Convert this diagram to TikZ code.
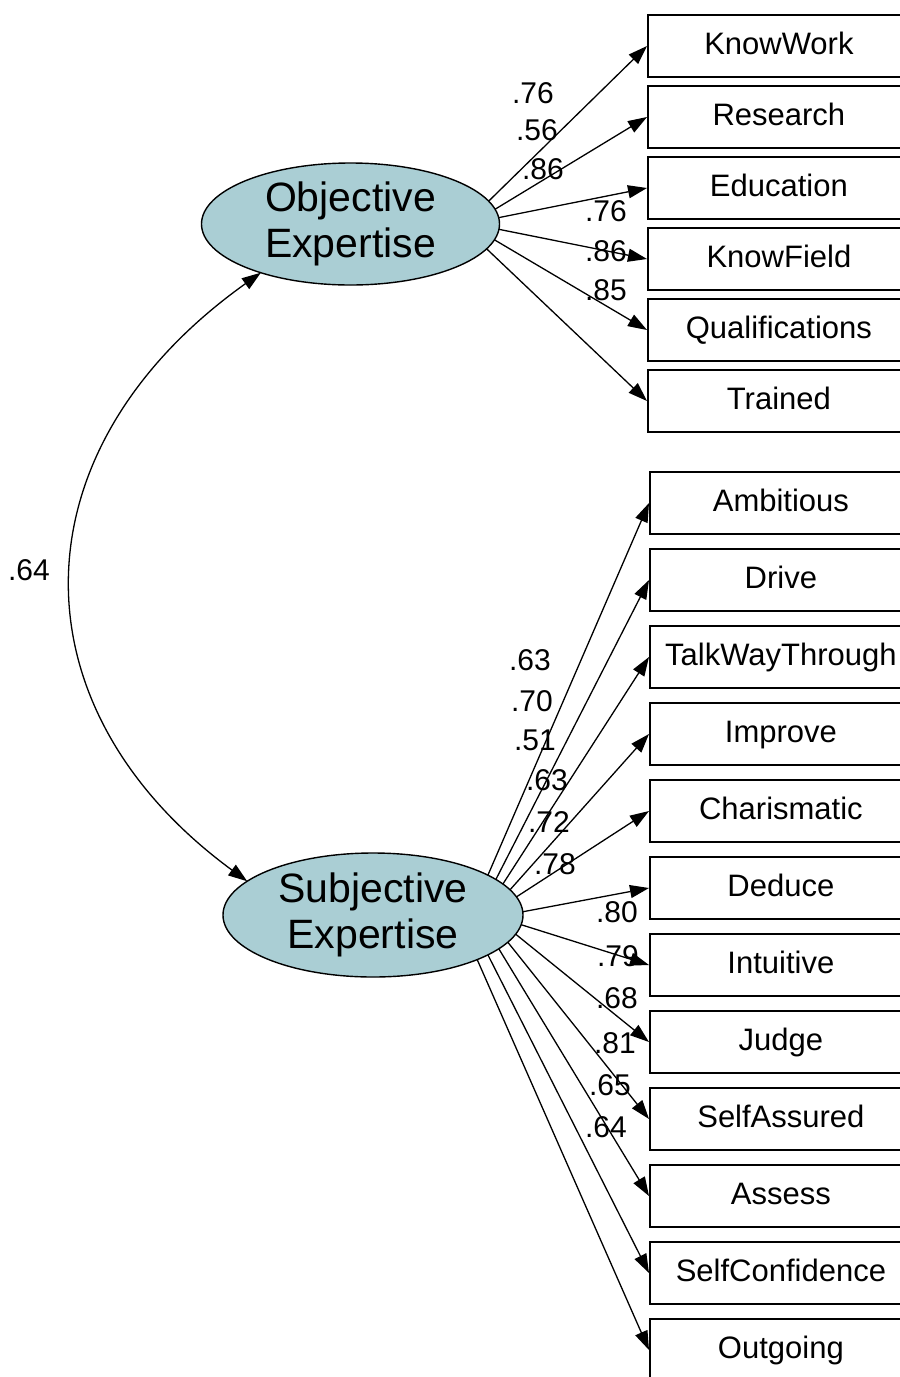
\documentclass[tikz,border=0pt]{standalone}
\usepackage{fontspec}
\setmainfont{Liberation Sans}
\usetikzlibrary{arrows.meta,calc,shapes.geometric}
\definecolor{latfill}{RGB}{170,206,212}
\begin{document}
\begin{tikzpicture}[x=1pt,y=-1pt,
  obs/.style={draw,line width=1.8pt,rectangle,minimum width=262pt,minimum height=62pt,
    anchor=west,inner sep=0pt,font=\fontsize{31}{36}\selectfont,text height=22pt,text depth=6pt},
  latent/.style={draw,line width=1.4pt,ellipse,fill=latfill,inner sep=0pt},
  lattext/.style={align=center,font=\fontsize{41}{46}\selectfont,inner sep=0pt},
  coef/.style={font=\fontsize{30}{34}\selectfont,inner sep=0pt},
  load/.style={line width=1.3pt,-{Triangle[length=19pt,width=13pt]}},
  cov/.style={line width=1.3pt,{Triangle[length=19pt,width=13pt]}-{Triangle[length=19pt,width=13pt]}}
]
\useasboundingbox (0,0) rectangle (900,1377);
\path[clip] (0,0) rectangle (900,1377);

% latent variables
\node[latent,minimum width=298pt,minimum height=122pt] (obj) at (350.5,224) {};
\node[lattext] (objtext) at (obj.center) {Objective\\Expertise};
\node[latent,minimum width=300pt,minimum height=124pt] (sub) at (373,915) {};
\node[lattext] (subtext) at (sub.center) {Subjective\\Expertise};

% observed variables (objective)
\foreach \n/\y in {KnowWork/46,Research/117,Education/188,KnowField/259,Qualifications/330,Trained/401}
  \node[obs] (\n) at (647,\y) {\n};
% observed variables (subjective)
\foreach \n/\y in {Ambitious/503,Drive/580,TalkWayThrough/657,Improve/734,Charismatic/811,Deduce/888,Intuitive/965,Judge/1042,SelfAssured/1119,Assess/1196,SelfConfidence/1273,Outgoing/1350}
  \node[obs,xshift=2pt] (\n) at (647,\y) {\n};

% loadings
\foreach \n/\a in {KnowWork/-22,Research/-14,Education/-6,KnowField/5,Qualifications/15,Trained/24}{
  \coordinate (s\n) at ($(obj.center)+(\a:149 and 61)$);
  \draw[load] (s\n) -- (\n.west);
}
\foreach \n/\a in {Ambitious/-40,Drive/-35,TalkWayThrough/-30,Improve/-24,Charismatic/-17,Deduce/-3,Intuitive/9,Judge/18,SelfAssured/26,Assess/33,SelfConfidence/40,Outgoing/46}{
  \coordinate (s\n) at ($(sub.center)+(\a:150 and 62)$);
  \draw[load] (s\n) -- (\n.west);
}

% covariance
\coordinate (cA) at ($(obj.center)+(127:149 and 61)$);
\coordinate (cB) at ($(sub.center)+(-147:150 and 62)$);
\draw[cov] (cA) .. controls (12,450) and (11,708) .. (cB);
\node[coef] (c64) at (29,570) {.64};

% coefficient labels
\node[coef] (l1) at (533,93) {.76};
\node[coef] (l2) at (537,130) {.56};
\node[coef] (l3) at (543,169) {.86};
\node[coef] (l4) at (606,211) {.76};
\node[coef] (l5) at (606,251) {.86};
\node[coef] (l6) at (606,290) {.85};

\node[coef] (m1) at (530,660) {.63};
\node[coef] (m2) at (532,701) {.70};
\node[coef] (m3) at (535,740) {.51};
\node[coef] (m4) at (547,780) {.63};
\node[coef] (m5) at (549,822) {.72};
\node[coef] (m6) at (555,864) {.78};
\node[coef] (m7) at (617,912) {.80};
\node[coef] (m8) at (618,956) {.79};
\node[coef] (m9) at (617,998) {.68};
\node[coef] (m10) at (615,1043) {.81};
\node[coef] (m11) at (610,1085) {.65};
\node[coef] (m12) at (606,1127) {.64};
\end{tikzpicture}
\end{document}
